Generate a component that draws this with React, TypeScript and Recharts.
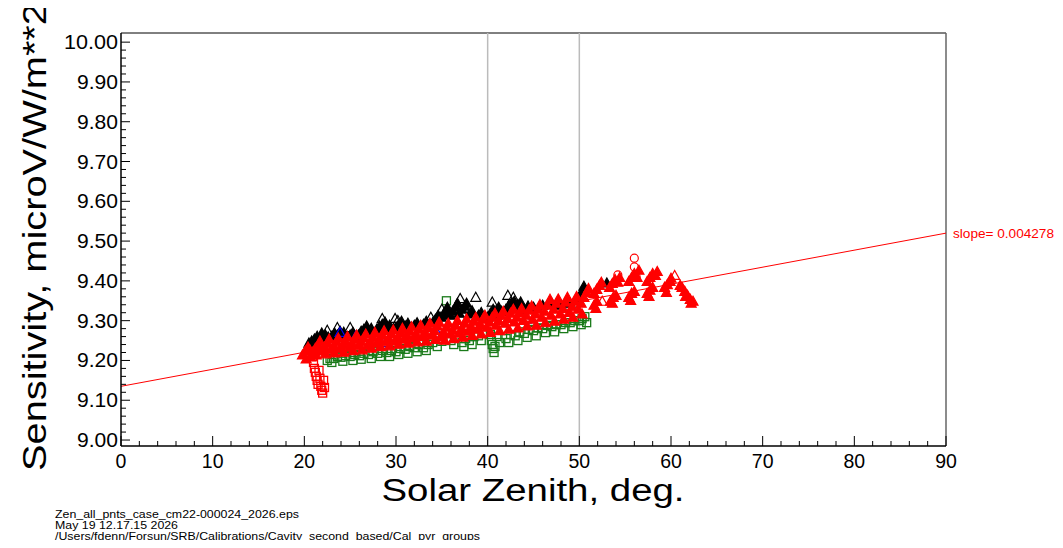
import React from "react";
import {
  ScatterChart, Scatter, XAxis, YAxis, ReferenceLine,
} from "recharts";

// tick labels
const X_MAJOR = [0, 10, 20, 30, 40, 50, 60, 70, 80, 90];
const Y_MAJOR = [9.0, 9.1, 9.2, 9.3, 9.4, 9.5, 9.6, 9.7, 9.8, 9.9, 10.0];

// fit line
const FIT_START: [number, number] = [0, 9.135];
const FIT_END: [number, number] = [90, 9.52];
const SLOPE_TEXT = "slope= 0.004278";

const FOOTER = [
  "Zen_all_pnts_case_cm22-000024_2026.eps",
  "May 19 12.17.15 2026",
  "/Users/fdenn/Forsun/SRB/Calibrations/Cavity_second_based/Cal_pyr_groups",
];

// solar zenith (deg), sensitivity
const blackFilled: [number, number][] = [
  [20.5, 9.245], [20.8, 9.25], [21.1, 9.255], [21.4, 9.262], [21.7, 9.252], [22.0, 9.258],
  [22.3, 9.265], [22.6, 9.26], [23.0, 9.262], [23.3, 9.27], [23.6, 9.265], [24.0, 9.268],
  [24.3, 9.272], [25.0, 9.265], [25.3, 9.272], [25.9, 9.265], [26.2, 9.275], [26.5, 9.28],
  [27.0, 9.275], [27.3, 9.282], [27.9, 9.28], [28.2, 9.288], [28.5, 9.292], [29.0, 9.282],
  [29.3, 9.29], [30.0, 9.285], [30.3, 9.292], [31.0, 9.288], [31.3, 9.295], [32.0, 9.29],
  [32.3, 9.296], [33.0, 9.292], [33.3, 9.3], [34.0, 9.296], [34.3, 9.305], [34.9, 9.31],
  [35.2, 9.318], [35.5, 9.325], [35.9, 9.315], [36.2, 9.325], [36.5, 9.335], [36.9, 9.32],
  [37.2, 9.33], [37.5, 9.338], [38.0, 9.318], [38.3, 9.326], [39.0, 9.315], [39.3, 9.322],
  [40.0, 9.31], [40.3, 9.32], [40.6, 9.33], [41.0, 9.315], [41.5, 9.325], [42.0, 9.33],
  [42.3, 9.34], [42.6, 9.345], [43.0, 9.335], [43.3, 9.342], [44.0, 9.33], [44.4, 9.338],
  [45.0, 9.335], [46.0, 9.34], [47.0, 9.345], [48.0, 9.34], [49.0, 9.345], [50.0, 9.36],
  [50.3, 9.375], [50.5, 9.388], [53.0, 9.396],
  [21.9, 9.27], [23.9, 9.275], [26.8, 9.288], [28.8, 9.298], [30.6, 9.3], [34.6, 9.315],
  [35.6, 9.335], [36.7, 9.345], [37.7, 9.345], [41.2, 9.335], [42.9, 9.35], [43.6, 9.348],
];

const blackOpen: [number, number][] = [
  [22.5, 9.277], [23.6, 9.284], [25.0, 9.284], [28.5, 9.307], [29.9, 9.307], [30.2, 9.302],
  [33.8, 9.31], [35.0, 9.33], [37.0, 9.357], [38.7, 9.36], [40.5, 9.348], [42.2, 9.365],
  [42.8, 9.36],
];

const greenSquares: [number, number][] = [
  [22.5, 9.2], [22.8, 9.205], [23.2, 9.205], [23.6, 9.21], [24.0, 9.208], [24.5, 9.212],
  [25.0, 9.21], [25.5, 9.215], [26.0, 9.212], [26.5, 9.218], [27.0, 9.215], [27.5, 9.222],
  [28.0, 9.218], [28.5, 9.225], [29.0, 9.22], [29.5, 9.225], [30.0, 9.222], [30.5, 9.23],
  [31.0, 9.228], [31.5, 9.235], [32.0, 9.232], [32.5, 9.24], [33.0, 9.232], [33.5, 9.24],
  [34.0, 9.245], [35.0, 9.248], [35.5, 9.255], [35.5, 9.35], [36.0, 9.25], [36.5, 9.258],
  [37.2, 9.245], [37.6, 9.255], [38.0, 9.25], [38.5, 9.26], [39.0, 9.262], [39.5, 9.27],
  [40.3, 9.265], [40.4, 9.25], [40.5, 9.24], [40.6, 9.23], [40.7, 9.22], [40.8, 9.235],
  [41.0, 9.26], [41.3, 9.245], [42.0, 9.255], [42.5, 9.265], [43.0, 9.262], [43.5, 9.272],
  [44.0, 9.268], [44.5, 9.278], [45.0, 9.275], [45.5, 9.282], [46.0, 9.28], [46.5, 9.288],
  [47.0, 9.285], [47.5, 9.29], [48.0, 9.29], [48.5, 9.295], [49.0, 9.295], [49.5, 9.3],
  [50.0, 9.3], [50.3, 9.305], [50.6, 9.31],
  [23.0, 9.195], [24.2, 9.198], [25.3, 9.2], [26.2, 9.203], [27.3, 9.205], [28.3, 9.21],
  [29.3, 9.21], [30.3, 9.215], [31.3, 9.218], [32.3, 9.222], [33.3, 9.225], [34.5, 9.235],
  [36.3, 9.24], [37.4, 9.235], [38.3, 9.24], [39.3, 9.25], [42.3, 9.245], [43.3, 9.25],
  [44.3, 9.258], [45.3, 9.262], [46.3, 9.27], [47.3, 9.272], [48.3, 9.28], [49.3, 9.285],
  [50.2, 9.29], [50.8, 9.295],
];

const blueTriangles: [number, number][] = [
  [23.9, 9.272], [25.6, 9.262], [28.6, 9.246], [34.5, 9.27], [44.2, 9.305],
];

const redTriangles: [number, number][] = [
  [19.8, 9.215], [20.1, 9.225], [20.4, 9.235], [20.6, 9.228],
  [20.9, 9.222], [21.2, 9.232], [21.5, 9.24],
  [21.9, 9.225], [22.2, 9.235], [22.5, 9.245],
  [22.9, 9.228], [23.2, 9.238], [23.5, 9.248],
  [23.9, 9.232], [24.2, 9.242], [24.5, 9.25],
  [24.9, 9.235], [25.2, 9.245], [25.5, 9.255],
  [25.9, 9.238], [26.2, 9.248], [26.5, 9.258],
  [26.9, 9.24], [27.2, 9.25], [27.5, 9.26],
  [27.9, 9.245], [28.2, 9.255], [28.5, 9.265],
  [28.9, 9.248], [29.2, 9.258], [29.5, 9.268],
  [29.9, 9.25], [30.2, 9.26], [30.5, 9.27],
  [30.9, 9.255], [31.2, 9.265], [31.5, 9.275],
  [31.9, 9.258], [32.2, 9.268], [32.5, 9.28],
  [32.9, 9.262], [33.2, 9.272], [33.5, 9.284],
  [33.9, 9.265], [34.2, 9.276], [34.5, 9.288],
  [34.9, 9.262], [35.2, 9.272], [35.5, 9.285],
  [35.9, 9.268], [36.2, 9.278], [36.5, 9.29],
  [36.9, 9.27], [37.2, 9.282], [37.5, 9.295],
  [37.9, 9.275], [38.2, 9.287], [38.5, 9.3],
  [38.9, 9.28], [39.2, 9.292], [39.5, 9.305],
  [39.9, 9.285], [40.2, 9.298], [40.5, 9.31], [40.8, 9.32],
  [40.9, 9.29], [41.2, 9.302], [41.5, 9.315],
  [41.9, 9.295], [42.2, 9.307], [42.5, 9.32], [42.8, 9.33],
  [42.9, 9.298], [43.2, 9.31], [43.5, 9.322],
  [43.9, 9.302], [44.2, 9.315], [44.5, 9.328], [44.8, 9.338],
  [44.9, 9.305], [45.2, 9.318], [45.5, 9.33],
  [45.9, 9.31], [46.2, 9.325], [46.5, 9.34], [46.8, 9.355],
  [46.9, 9.315], [47.2, 9.33], [47.5, 9.345],
  [47.9, 9.318], [48.2, 9.332], [48.5, 9.348],
  [48.9, 9.322], [49.2, 9.336], [49.5, 9.35],
  [49.9, 9.33], [50.2, 9.345], [50.5, 9.36], [50.8, 9.372],
  // upper row past 50 deg
  [51.6, 9.37], [51.9, 9.38], [52.2, 9.39],
  [53.3, 9.385], [53.6, 9.395], [53.9, 9.405], [54.2, 9.398],
  [55.4, 9.4], [55.7, 9.41], [56.0, 9.42], [56.3, 9.41],
  [57.4, 9.4], [57.7, 9.41], [58.0, 9.42], [58.3, 9.415],
  [59.3, 9.385], [59.6, 9.392], [59.9, 9.4],
  // lower row past 50 deg
  [51.6, 9.34], [51.9, 9.35],
  [53.4, 9.35], [53.7, 9.36], [54.0, 9.365],
  [55.4, 9.36], [55.7, 9.37], [56.0, 9.375],
  [57.4, 9.37], [57.7, 9.378], [58.0, 9.385],
  [61.2, 9.385], [61.5, 9.375], [61.8, 9.365], [62.1, 9.355], [62.4, 9.35],
];

// lower and upper edges of the red band
const redTrianglesEdge: [number, number][] = [
  [20.2, 9.205], [20.7, 9.21], [21.3, 9.215], [22.3, 9.218], [23.3, 9.22], [24.3, 9.222],
  [25.3, 9.226], [26.3, 9.228], [27.3, 9.232], [28.3, 9.236], [29.3, 9.238], [30.3, 9.242],
  [31.3, 9.245], [32.3, 9.248], [33.3, 9.25], [34.3, 9.254], [35.3, 9.252], [36.3, 9.256],
  [37.3, 9.26], [38.3, 9.264], [39.3, 9.268], [40.3, 9.272], [41.3, 9.276], [42.3, 9.28],
  [43.3, 9.283], [44.3, 9.288], [45.3, 9.29], [46.3, 9.296], [47.3, 9.3], [48.3, 9.305],
  [49.3, 9.31], [50.3, 9.318], [51.8, 9.332], [53.6, 9.345], [55.6, 9.352], [57.6, 9.362],
  [59.5, 9.372], [61.6, 9.362], [62.2, 9.345],
  [21.7, 9.25], [22.7, 9.255], [23.7, 9.258], [24.7, 9.262], [25.7, 9.265], [26.7, 9.268],
  [27.7, 9.272], [28.7, 9.276], [29.7, 9.278], [30.7, 9.282], [31.7, 9.286], [32.7, 9.29],
  [33.7, 9.295], [34.7, 9.298], [35.7, 9.295], [36.7, 9.302], [37.7, 9.306], [38.7, 9.31],
  [39.7, 9.315], [41.7, 9.325], [43.7, 9.332], [45.7, 9.342], [47.7, 9.356], [48.7, 9.36],
  [49.7, 9.362], [51.0, 9.382], [52.4, 9.398], [54.4, 9.41], [56.5, 9.428], [58.5, 9.425],
  [60.0, 9.408], [61.0, 9.39],
];

const redOpenTriangles: [number, number][] = [
  [60.4, 9.415], [52.5, 9.35],
];

const redSquares: [number, number][] = [
  [20.9, 9.21], [21.0, 9.195], [21.1, 9.18], [21.2, 9.17], [21.3, 9.16], [21.4, 9.15],
  [21.5, 9.14], [21.6, 9.175], [21.7, 9.155], [21.8, 9.135], [21.9, 9.125], [22.0, 9.118],
  [22.1, 9.15], [22.2, 9.132],
];

const redCircles: [number, number][] = [
  [56.0, 9.457], [56.0, 9.435], [54.2, 9.415], [56.2, 9.41],
];

const toPts = (a: [number, number][]) => a.map(([x, y]) => ({ x, y }));

// minor ticks every 2 deg / 0.02
const xTicks: number[] = [];
X_MAJOR.forEach((m, i) => {
  if (i === X_MAJOR.length - 1) { xTicks.push(m); return; }
  for (let k = 0; k < 5; k++) xTicks.push(m + k * 2);
});
const yTicks: number[] = [];
Y_MAJOR.forEach((m, i) => {
  if (i === Y_MAJOR.length - 1) { yTicks.push(m); return; }
  for (let k = 0; k < 5; k++) yTicks.push(+(m + k * 0.02).toFixed(2));
});

const FONT = '"Liberation Sans", Arial, Helvetica, sans-serif';
const RED = "#ff0000";
const GREEN = "#1a7a1a";

function tri(fill: string, stroke: string) {
  return (p: any) => (
    <path
      d={`M${p.cx - 5},${p.cy + 4.5} L${p.cx + 5},${p.cy + 4.5} L${p.cx},${p.cy - 4.5} Z`}
      fill={fill} stroke={stroke} strokeWidth={1.2}
    />
  );
}
function square(stroke: string) {
  return (p: any) => (
    <rect x={p.cx - 4} y={p.cy - 4} width={8} height={8} fill="none" stroke={stroke} strokeWidth={1.3} />
  );
}
function circle(stroke: string) {
  return (p: any) => <circle cx={p.cx} cy={p.cy} r={4} fill="none" stroke={stroke} strokeWidth={1.2} />;
}

function XTick({ x, y, payload }: any) {
  const v = payload.value;
  const major = v % 10 === 0;
  return (
    <g>
      <line x1={x} x2={x} y1={y} y2={y - (major ? 10 : 5)} stroke="#000" />
      {major && (
        <text x={x} y={y + 22} textAnchor="middle" fontSize={19.5} fontFamily={FONT} fill="#000">
          {v}
        </text>
      )}
    </g>
  );
}

function YTick({ x, y, payload }: any) {
  const v = payload.value;
  const major = Math.abs(v * 10 - Math.round(v * 10)) < 1e-6;
  const label = v.toFixed(2);
  return (
    <g>
      <line x1={x} x2={x + (major ? 9 : 5)} y1={y} y2={y} stroke="#000" />
      {major && (
        <text
          x={x - 3} y={y + 7} textAnchor="end" fontSize={19.5} fontFamily={FONT} fill="#000"
          textLength={label.length === 5 ? 54 : 41} lengthAdjust="spacingAndGlyphs"
        >
          {label}
        </text>
      )}
    </g>
  );
}

export default function App() {
  return (
    <div style={{ position: "relative", width: 1063, height: 548, margin: -8, background: "#fff", fontFamily: FONT }}>
      <ScatterChart width={1063} height={548} margin={{ top: 33, right: 117, bottom: 0, left: 0 }}>
        <XAxis
          type="number" dataKey="x" domain={[0, 90]} ticks={xTicks} interval={0}
          height={102} tickSize={0} tickMargin={0} tickLine={false}
          axisLine={{ stroke: "#000", strokeWidth: 1.5 }} tick={XTick} allowDataOverflow
        />
        <YAxis
          type="number" dataKey="y" domain={[8.985, 10.023]} ticks={yTicks} interval={0}
          width={121} tickSize={0} tickMargin={0} tickLine={false}
          axisLine={{ stroke: "#000", strokeWidth: 1.5 }} tick={YTick} allowDataOverflow
        />
        <ReferenceLine y={10.023} stroke="#000" strokeWidth={1} />
        <ReferenceLine x={90} stroke="#666" strokeWidth={1.5} />
        <ReferenceLine x={40} stroke="#bbb" strokeWidth={1.5} />
        <ReferenceLine x={50} stroke="#bbb" strokeWidth={1.5} />
        <ReferenceLine
          segment={[{ x: FIT_START[0], y: FIT_START[1] }, { x: FIT_END[0], y: FIT_END[1] }]}
          stroke={RED} strokeWidth={1}
        />
        <Scatter data={toPts(greenSquares)} shape={square(GREEN)} isAnimationActive={false} />
        <Scatter data={toPts(blackFilled)} shape={tri("#000", "#000")} isAnimationActive={false} />
        <Scatter data={toPts(blackOpen)} shape={tri("none", "#000")} isAnimationActive={false} />
        <Scatter data={toPts(blueTriangles)} shape={tri("none", "#0000ff")} isAnimationActive={false} />
        <Scatter data={toPts(redTrianglesEdge)} shape={tri(RED, RED)} isAnimationActive={false} />
        <Scatter data={toPts(redTriangles)} shape={tri(RED, RED)} isAnimationActive={false} />
        <Scatter data={toPts(redOpenTriangles)} shape={tri("none", RED)} isAnimationActive={false} />
        <Scatter data={toPts(redSquares)} shape={square(RED)} isAnimationActive={false} />
        <Scatter data={toPts(redCircles)} shape={circle(RED)} isAnimationActive={false} />
      </ScatterChart>

      <svg width={1063} height={548} style={{ position: "absolute", left: 0, top: 0, pointerEvents: "none" }}>
        <text
          transform="translate(46,237) rotate(-90)" textAnchor="middle" fontSize={34} fontFamily={FONT}
          textLength={468} lengthAdjust="spacingAndGlyphs" fill="#000"
        >
          Sensitivity, microV/W/m**2
        </text>
        <text
          x={533} y={501} textAnchor="middle" fontSize={31} fontFamily={FONT}
          textLength={303} lengthAdjust="spacingAndGlyphs" fill="#000"
        >
          Solar Zenith, deg.
        </text>
        <text x={953} y={238} fontSize={13.5} fontFamily={FONT} fill={RED} textLength={101} lengthAdjust="spacingAndGlyphs">
          {SLOPE_TEXT}
        </text>
        <g fontSize={10.5} fontFamily={FONT} fill="#000">
          <text x={55} y={518} textLength={244} lengthAdjust="spacingAndGlyphs">{FOOTER[0]}</text>
          <text x={55} y={529} textLength={123} lengthAdjust="spacingAndGlyphs">{FOOTER[1]}</text>
          <text x={55} y={540} textLength={425} lengthAdjust="spacingAndGlyphs">{FOOTER[2]}</text>
        </g>
      </svg>
    </div>
  );
}
